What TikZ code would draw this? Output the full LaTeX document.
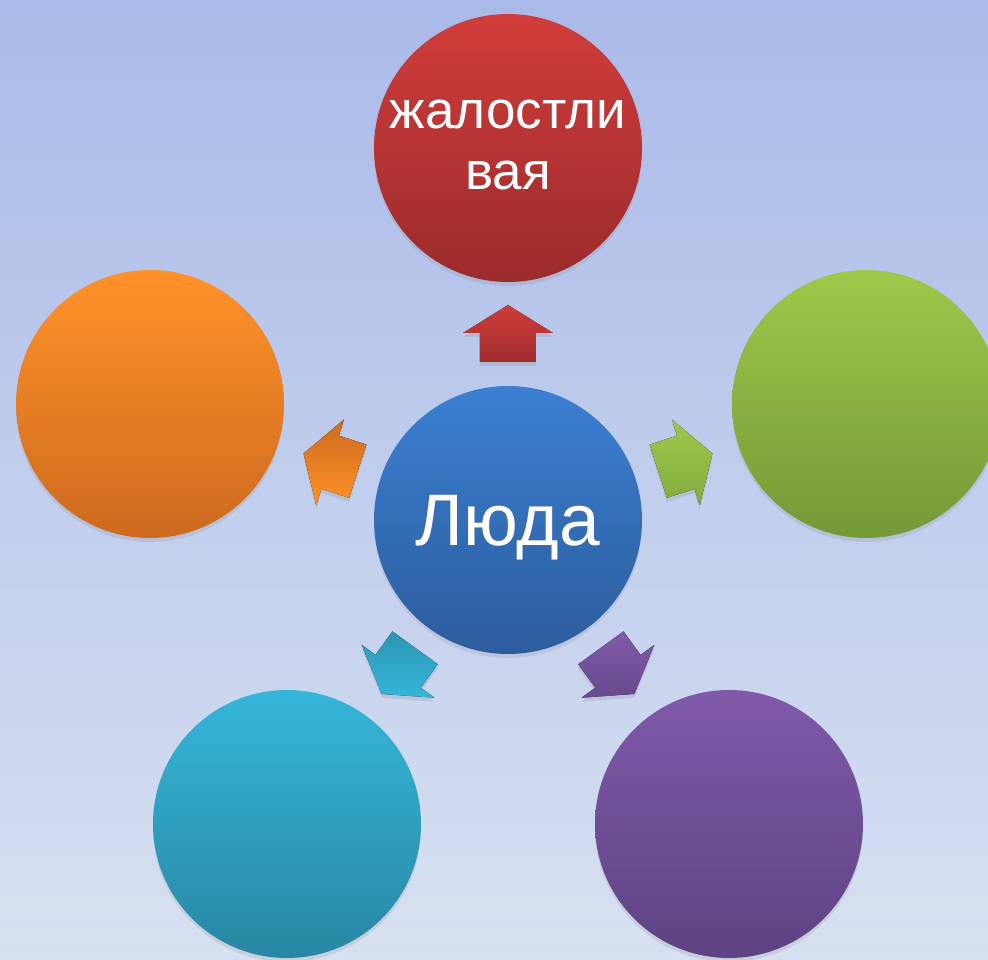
\documentclass[tikz,border=0pt]{standalone}
\usepackage{fontspec}
\setmainfont{Liberation Sans}
\usetikzlibrary{shadows}
\definecolor{bgtop}{HTML}{AABAE8}
\definecolor{bgbot}{HTML}{D7E1F1}
\definecolor{redT}{HTML}{D03D3A}
\definecolor{redB}{HTML}{9B2B2C}
\definecolor{orT}{HTML}{FF9229}
\definecolor{orB}{HTML}{CC6A1F}
\definecolor{grT}{HTML}{9DC94A}
\definecolor{grB}{HTML}{759838}
\definecolor{tlT}{HTML}{35B6D8}
\definecolor{tlB}{HTML}{2887A2}
\definecolor{puT}{HTML}{7F5AA9}
\definecolor{puB}{HTML}{5D4382}
\definecolor{blT}{HTML}{3B80D2}
\definecolor{blB}{HTML}{2C5C9C}
\tikzset{
  bubble/.style={circle, minimum size=268pt, inner sep=0pt, text=white,
    drop shadow={opacity=0.18, shadow xshift=0pt, shadow yshift=-4pt}},
  blockarrow/.style={drop shadow={opacity=0.2, shadow xshift=0pt, shadow yshift=-4pt}},
}
\newcommand{\arrowpath}{(158,-28) -- (187,-28) -- (187,-45) -- (215,0) -- (187,45) -- (187,28) -- (158,28) -- cycle}
\begin{document}
\begin{tikzpicture}[x=1pt,y=1pt]
  \shade[top color=bgtop, bottom color=bgbot] (-508,-440) rectangle (480,520);
  \useasboundingbox (-508,-440) rectangle (480,520);
  \coordinate (c) at (0,0);
  % arrows
  \begin{scope}[rotate=90]
    \fill[blockarrow, top color=redT, bottom color=redB!90!redT] \arrowpath;
  \end{scope}
  \begin{scope}[rotate=162]
    \fill[blockarrow, top color=orB, bottom color=orT] \arrowpath;
  \end{scope}
  \begin{scope}[rotate=18]
    \fill[blockarrow, top color=grT, bottom color=grB!60!grT] \arrowpath;
  \end{scope}
  \begin{scope}[rotate=234]
    \fill[blockarrow, top color=tlB!70!tlT, bottom color=tlT] \arrowpath;
  \end{scope}
  \begin{scope}[rotate=306]
    \fill[blockarrow, top color=puT, bottom color=puB!70!puT] \arrowpath;
  \end{scope}
  % circles
  \node[bubble, top color=blT, bottom color=blB, font=\fontsize{73}{80}\selectfont, text depth=0pt] (center) at (c) {Люда};
  \node[bubble, top color=redT, bottom color=redB, font=\fontsize{53}{58}\selectfont, align=center] (n1) at (0,372) {\raisebox{3pt}{жалостли}\\[0pt]вая\rule[-6pt]{0pt}{6pt}};
  \node[bubble, top color=orT, bottom color=orB] (n2) at (-358,116) {};
  \node[bubble, top color=grT, bottom color=grB] (n3) at (358,116) {};
  \node[bubble, top color=tlT, bottom color=tlB] (n4) at (-221,-304) {};
  \node[bubble, top color=puT, bottom color=puB] (n5) at (221,-304) {};
\end{tikzpicture}
\end{document}
